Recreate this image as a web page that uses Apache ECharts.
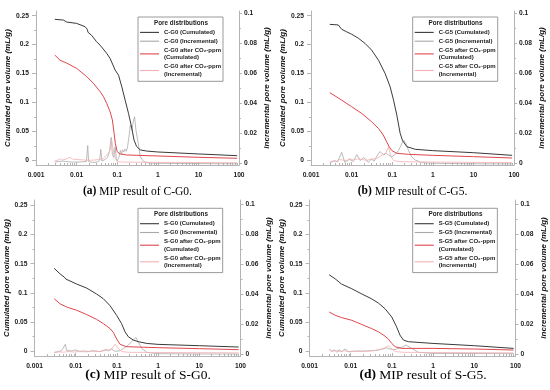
<!DOCTYPE html>
<html><head><meta charset="utf-8">
<script src="https://cdn.jsdelivr.net/npm/echarts@6/dist/echarts.min.js"></script>
<style>html,body{margin:0;padding:0;background:#fff}#c{width:550px;height:390px}</style>
</head><body><div id="c"></div><script>
// ---- tick values / labels ----
const xTicks=[0.001,0.01,0.1,1,10,100];
const xTickLabels=['0.001','0.01','0.1','1','10','100'];
const leftTicks=[0,0.05,0.1,0.15,0.2,0.25];
const rightTicks=[0,0.02,0.04,0.06,0.08,0.1];
const samples=['C-G0','C-G5','S-G0','S-G5'];
const panelLetters=['a','b','c','d'];

// ---- data: [pore diameter (um), volume (mL/g)] ----
// (a) C-G0
const aCum=[[0.0029,0.2437],[0.0047,0.2425],[0.0057,0.239],[0.01,0.2367],[0.0162,0.231],[0.0183,0.2265],[0.0192,0.221],[0.0235,0.216],[0.031,0.205],[0.038,0.199],[0.055,0.185],[0.067,0.176],[0.089,0.156],[0.108,0.147],[0.13,0.127],[0.157,0.104],[0.19,0.081],[0.23,0.055],[0.26,0.035],[0.30,0.024],[0.37,0.018],[0.53,0.016],[1,0.0144],[10,0.011],[90,0.008]];
const aInc=[[0.0029,0.0008],[0.0036,0.0012],[0.0045,0.0015],[0.0049,0.0027],[0.0053,0.0012],[0.007,0.0009],[0.01,0.0008],[0.014,0.001],[0.0175,0.0012],[0.0188,0.0118],[0.0198,0.0012],[0.025,0.0006],[0.032,0.0008],[0.037,0.002],[0.0396,0.0093],[0.042,0.0015],[0.05,0.0025],[0.058,0.004],[0.065,0.008],[0.071,0.0173],[0.076,0.006],[0.082,0.004],[0.089,0.011],[0.095,0.003],[0.1,0.0015],[0.11,0.004],[0.12,0.0085],[0.128,0.006],[0.135,0.009],[0.145,0.0075],[0.155,0.0095],[0.168,0.008],[0.18,0.011],[0.2,0.02],[0.21,0.0255],[0.23,0.022],[0.245,0.027],[0.267,0.031],[0.29,0.022],[0.33,0.0133],[0.37,0.0044],[0.45,0.0011],[0.6,0.0002],[1,0],[10,-0.0002],[90,-0.0003]];
const aCO2Cum=[[0.0029,0.182],[0.0039,0.173],[0.0057,0.168],[0.01,0.159],[0.0178,0.1446],[0.026,0.133],[0.038,0.1187],[0.046,0.110],[0.055,0.0985],[0.067,0.084],[0.076,0.0697],[0.084,0.0467],[0.09,0.0294],[0.1,0.015],[0.118,0.011],[0.17,0.0092],[1,0.0075],[10,0.0052],[90,0.0035]];
const aCO2Inc=[[0.0029,0.0015],[0.0035,0.0022],[0.004,0.003],[0.0045,0.0022],[0.0055,0.0028],[0.0069,0.004],[0.008,0.0028],[0.011,0.0025],[0.015,0.0022],[0.02,0.002],[0.028,0.0022],[0.035,0.0025],[0.045,0.003],[0.052,0.005],[0.06,0.0065],[0.067,0.009],[0.073,0.0155],[0.079,0.01],[0.085,0.005],[0.095,0.002],[0.11,0.001],[0.15,0.0008],[1,0.0006],[10,0.0005],[90,0.0004]];
// (b) C-G5
const bCum=[[0.0029,0.235],[0.0047,0.234],[0.0052,0.231],[0.0057,0.2265],[0.0076,0.222],[0.01,0.218],[0.0147,0.211],[0.0215,0.202],[0.031,0.1907],[0.046,0.173],[0.067,0.150],[0.089,0.127],[0.108,0.104],[0.13,0.078],[0.157,0.0467],[0.18,0.034],[0.23,0.0236],[0.37,0.019],[1,0.0167],[10,0.0132],[90,0.0086]];
const bInc=[[0.0029,0],[0.0037,0.0018],[0.0045,0.001],[0.0057,0.0073],[0.0068,0.0006],[0.0089,0.0027],[0.011,0.0012],[0.0134,0.0058],[0.0163,0.0018],[0.02,0.004],[0.026,0.0006],[0.031,0.0029],[0.036,0.0015],[0.042,0.0049],[0.05,0.0078],[0.055,0.0089],[0.062,0.0055],[0.071,0.0067],[0.08,0.0055],[0.098,0.0044],[0.12,0.006],[0.143,0.0085],[0.165,0.012],[0.19,0.0155],[0.22,0.013],[0.25,0.0089],[0.3,0.0044],[0.37,0.0022],[0.53,0.0005],[1,0],[10,-0.0003],[90,-0.0004]];
const bCO2Cum=[[0.0029,0.117],[0.0057,0.104],[0.01,0.0927],[0.0178,0.081],[0.031,0.0668],[0.046,0.055],[0.06,0.0438],[0.073,0.032],[0.084,0.0236],[0.098,0.0167],[0.13,0.0121],[0.25,0.0104],[1,0.0086],[10,0.0063],[90,0.004]];
const bCO2Inc=[[0.0029,0.0009],[0.0035,0.0015],[0.0042,0.0012],[0.005,0.0025],[0.006,0.0022],[0.0075,0.0018],[0.009,0.003],[0.011,0.0022],[0.014,0.003],[0.018,0.0025],[0.024,0.002],[0.03,0.0028],[0.04,0.003],[0.05,0.0045],[0.06,0.006],[0.07,0.007],[0.081,0.011],[0.088,0.007],[0.095,0.004],[0.11,0.0018],[0.15,0.0011],[1,0.0008],[10,0.0006],[90,0.0005]];
// (c) S-G0
const cCum=[[0.003,0.142],[0.0042,0.1324],[0.0053,0.127],[0.0058,0.1235],[0.0106,0.115],[0.0186,0.108],[0.032,0.098],[0.047,0.0898],[0.068,0.078],[0.099,0.061],[0.13,0.047],[0.157,0.033],[0.19,0.0244],[0.25,0.0188],[0.33,0.016],[0.53,0.013],[1,0.0114],[10,0.0091],[90,0.0068]];
const cInc=[[0.003,0.0011],[0.0038,0.0016],[0.0046,0.0024],[0.005,0.0016],[0.0056,0.0065],[0.006,0.0024],[0.008,0.002],[0.0097,0.0027],[0.0125,0.0018],[0.0154,0.002],[0.02,0.0017],[0.027,0.0022],[0.039,0.0016],[0.055,0.0031],[0.062,0.002],[0.075,0.0033],[0.09,0.0018],[0.12,0.0022],[0.19,0.006],[0.25,0.0094],[0.29,0.011],[0.33,0.0082],[0.4,0.0038],[0.53,0.0011],[1,0.0002],[10,0],[90,0]];
const cCO2Cum=[[0.003,0.0898],[0.0042,0.081],[0.006,0.0756],[0.0106,0.070],[0.0186,0.0625],[0.032,0.0545],[0.047,0.047],[0.068,0.0386],[0.082,0.0318],[0.099,0.0205],[0.12,0.0114],[0.17,0.0074],[1,0.0057],[10,0.004],[90,0.0023]];
const cCO2Inc=[[0.003,0.001],[0.004,0.0014],[0.005,0.0012],[0.0065,0.0016],[0.009,0.0013],[0.012,0.0016],[0.018,0.0014],[0.025,0.0018],[0.035,0.0016],[0.045,0.002],[0.062,0.0027],[0.075,0.0035],[0.09,0.0065],[0.108,0.0038],[0.13,0.0016],[0.2,0.0011],[1,0.001],[10,0.0009],[90,0.0008]];
// (d) S-G5
const dCum=[[0.003,0.131],[0.0042,0.124],[0.006,0.115],[0.0106,0.107],[0.0186,0.098],[0.032,0.0898],[0.047,0.0824],[0.068,0.0727],[0.099,0.0585],[0.13,0.0415],[0.157,0.0273],[0.19,0.0188],[0.25,0.016],[1,0.013],[10,0.0091],[90,0.0045]];
const dInc=[[0.003,0.0033],[0.0035,0.0016],[0.004,0.0029],[0.0046,0.0011],[0.0052,0.0029],[0.006,0.0016],[0.0073,0.0033],[0.0088,0.0016],[0.0128,0.002],[0.022,0.002],[0.039,0.0024],[0.057,0.0031],[0.075,0.0042],[0.09,0.0033],[0.12,0.003],[0.19,0.0049],[0.22,0.006],[0.3,0.0038],[0.44,0.0011],[0.9,0.0004],[10,0.0003],[90,0.0002]];
const dCO2Cum=[[0.003,0.067],[0.0042,0.0614],[0.006,0.0574],[0.0106,0.0528],[0.0186,0.0455],[0.032,0.0386],[0.047,0.033],[0.068,0.0256],[0.082,0.0205],[0.099,0.013],[0.12,0.0074],[0.17,0.0045],[1,0.0045],[10,0.0034],[90,0.0017]];
const dCO2Inc=[[0.003,0.0029],[0.0037,0.0018],[0.0045,0.0024],[0.0055,0.0015],[0.007,0.0022],[0.009,0.0014],[0.013,0.0018],[0.02,0.0016],[0.03,0.002],[0.045,0.0025],[0.068,0.0042],[0.082,0.0056],[0.1,0.0033],[0.12,0.0016],[0.2,0.0011],[1,0.001],[10,0.0009],[90,0.0008]];

const panelData=[[aCum,aInc,aCO2Cum,aCO2Inc],[bCum,bInc,bCO2Cum,bCO2Inc],[cCum,cInc,cCO2Cum,cCO2Inc],[dCum,dInc,dCO2Cum,dCO2Inc]];

// ---- layout ----
const layouts=[
 {grid:{left:36,top:11,width:203,height:154},lr:[-0.0081,0.2581],rr:[-0.00113,0.1015],leg:[138,17],legTitleX:181,cap:[137.5,185.5,11.5]},
 {grid:{left:311,top:11,width:203,height:154},lr:[-0.0081,0.2581],rr:[-0.00113,0.1015],leg:[412.7,17],legTitleX:455.5,cap:[412.5,185.5,11.5]},
 {grid:{left:34.5,top:200,width:206,height:156},lr:[-0.0086,0.2595],rr:[-0.00134,0.1029],leg:[138,208.3],legTitleX:181,cap:[148,368,13.5]},
 {grid:{left:309.5,top:200,width:206,height:156},lr:[-0.0086,0.2595],rr:[-0.00134,0.1029],leg:[412.7,208.3],legTitleX:455.5,cap:[423,368,13.5]}
];
const sans='"Liberation Sans", Arial, sans-serif';
const serif='"Liberation Serif", "Times New Roman", serif';
const axisCol='#b4b4b4', lblCol='#222';
const colors=['#3a3a3a','#a9a9a9','#df474c','#f4b0b2'];

const xMinor=[]; xTicks.slice(0,-1).forEach(d=>{for(let k=2;k<10;k++) xMinor.push(d*k);});
const mids=t=>t.slice(0,-1).map((v,i)=>(v+t[i+1])/2);
const leftMinor=mids(leftTicks), rightMinor=mids(rightTicks);

const option={animation:false,backgroundColor:'#fff',grid:[],xAxis:[],yAxis:[],series:[],legend:[],title:[]};
layouts.forEach((L,i)=>{
  const s=samples[i];
  option.grid.push(Object.assign({containLabel:false},L.grid));
  const xb={type:'log',logBase:10,gridIndex:i,min:0.001,max:100,position:'bottom',splitLine:{show:false},minorTick:{show:false},minorSplitLine:{show:false}};
  option.xAxis.push(Object.assign({},xb,{
    axisLine:{show:true,onZero:false,lineStyle:{color:axisCol,width:1}},
    axisTick:{show:true,inside:true,length:3,customValues:xTicks,lineStyle:{color:axisCol}},
    axisLabel:{show:true,margin:7,customValues:xTicks,color:lblCol,fontSize:6.7,fontWeight:'bold',fontFamily:sans,
      formatter:v=>{const j=xTicks.findIndex(t=>Math.abs(t-v)/t<1e-6);return j>=0?xTickLabels[j]:'';}}
  }));
  option.xAxis.push(Object.assign({},xb,{
    axisLine:{show:false,onZero:false},axisLabel:{show:false},
    axisTick:{show:true,inside:true,length:2,customValues:xMinor,lineStyle:{color:axisCol}}
  }));
  const yb=(pos,r)=>({type:'value',gridIndex:i,position:pos,min:r[0],max:r[1],splitLine:{show:false},minorTick:{show:false}});
  option.yAxis.push(Object.assign(yb('left',L.lr),{
    name:'Cumulated pore volume (mL/g)',nameLocation:'middle',nameRotate:90,nameGap:20,
    nameTextStyle:{fontSize:8,fontWeight:'bold',fontStyle:'italic',fontFamily:sans,color:'#111'},
    axisLine:{show:true,onZero:false,lineStyle:{color:axisCol}},
    axisTick:{show:true,inside:false,length:4,customValues:leftTicks,lineStyle:{color:axisCol}},
    axisLabel:{show:true,margin:7,customValues:leftTicks,color:lblCol,fontSize:6.7,fontWeight:'bold',fontFamily:sans}
  }));
  option.yAxis.push(Object.assign(yb('right',L.rr),{
    name:'Incremental pore volume (mL/g)',nameLocation:'middle',nameRotate:90,nameGap:24,
    nameTextStyle:{fontSize:8,fontWeight:'bold',fontStyle:'italic',fontFamily:sans,color:'#111'},
    axisLine:{show:true,onZero:false,lineStyle:{color:axisCol}},
    axisTick:{show:true,inside:false,length:3,customValues:rightTicks,lineStyle:{color:axisCol}},
    axisLabel:{show:true,margin:5,customValues:rightTicks,color:lblCol,fontSize:6.7,fontWeight:'bold',fontFamily:sans}
  }));
  option.yAxis.push(Object.assign(yb('left',L.lr),{axisLine:{show:false,onZero:false},axisLabel:{show:false},
    axisTick:{show:true,inside:false,length:2,customValues:leftMinor,lineStyle:{color:axisCol}}}));
  option.yAxis.push(Object.assign(yb('right',L.rr),{axisLine:{show:false,onZero:false},axisLabel:{show:false},
    axisTick:{show:true,inside:false,length:2,customValues:rightMinor,lineStyle:{color:axisCol}}}));

  const names=[s+' (Cumulated)',s+' (Incremental)',s+' after CO\u2082-ppm (Cumulated)',s+' after CO\u2082-ppm (Incremental)'];
  const order=[1,3,2,0];
  order.forEach(k=>{
    option.series.push({type:'line',name:names[k],xAxisIndex:2*i,yAxisIndex:k%2===0?4*i:4*i+1,
      data:panelData[i][k],symbol:'none',silent:true,
      lineStyle:{color:colors[k],width:k%2===0?1:0.8},itemStyle:{color:colors[k]}});
  });
  option.legend.push({show:true,orient:'vertical',left:L.leg[0],top:L.leg[1],data:names,selectedMode:false,
    backgroundColor:'#fff',borderColor:'#808080',borderWidth:0.8,borderRadius:0,
    padding:[11.5,2,3,2],itemGap:1,itemWidth:19,itemHeight:1.1,icon:'rect',
    textStyle:{fontSize:6.0,fontWeight:'bold',fontFamily:sans,color:'#222',lineHeight:7.8},
    formatter:n=>n.indexOf('after')>=0?n.replace(' (','\n('):n});
  option.title.push({text:'Pore distributions',left:L.legTitleX,top:L.leg[1]+3,textAlign:'center',padding:0,
    textStyle:{fontSize:6.3,fontWeight:'bold',fontFamily:sans,color:'#222'}});
  option.title.push({text:'{b|('+panelLetters[i]+')} MIP result of '+s+'.',left:L.cap[0],top:L.cap[1],textAlign:'center',padding:0,
    textStyle:{fontSize:L.cap[2],fontWeight:'normal',fontFamily:serif,color:'#000',
      rich:{b:{fontSize:L.cap[2],fontWeight:'bold',fontFamily:serif,color:'#000'}}}});
});
const chart=echarts.init(document.getElementById('c'),null,{renderer:'canvas'});
chart.setOption(option);
</script></body></html>
